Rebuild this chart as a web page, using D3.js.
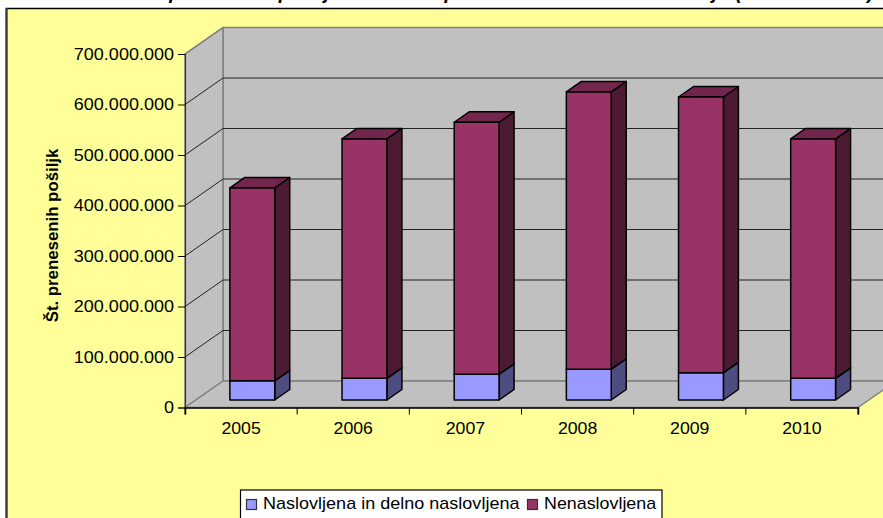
<!DOCTYPE html>
<html><head><meta charset="utf-8">
<script src="https://cdn.jsdelivr.net/npm/d3@7"></script>
<style>html,body{margin:0;padding:0;background:#fff;overflow:hidden}svg{display:block}text{font-family:"Liberation Sans",Arial,sans-serif;fill:#000}</style>
</head><body><svg id="c" width="883" height="518"></svg>
<script>
const categories=["2005","2006","2007","2008","2009","2010"];
const addressed=[38e6,43e6,51e6,61e6,54e6,43e6];
const unaddressed=[382e6,474e6,499e6,549e6,546e6,474e6];
const seriesNames=["Naslovljena in delno naslovljena","Nenaslovljena"];
const yTicks=[0,1e8,2e8,3e8,4e8,5e8,6e8,7e8];
const titleText="Število prenesenih pošiljk iz naslova poštnih storitev v tem obdobju";
const titleYears="(2005 – 2010)";
const yTitle="Št. prenesenih pošiljk";

const svg=d3.select("#c");
const x=d3.scaleBand().domain(categories).range([185,858]);
const y=d3.scaleLinear().domain([0,7e8]).range([407.5,54]);
const depth={x:38,y:-26.5};
const barFrac=0.4, barDepth={x:15,y:-10.5}, barLift=7.5;
const fmt=d3.formatLocale({decimal:",",thousands:".",grouping:[3],currency:["","€"]}).format(",d");
const stretch=(sel,k)=>sel.each(function(){const l=this.getComputedTextLength();d3.select(this).attr("textLength",l*k).attr("lengthAdjust","spacingAndGlyphs");});

// title (clipped by the top of the picture)
const title=svg.append("text").attr("x",100).attr("y",-1).attr("font-size",19.5).attr("font-weight","bold").attr("font-style","italic");
title.append("tspan").text(titleText);
title.append("tspan").attr("dx",6).attr("letter-spacing",1.4).text(titleYears);

// chart area
svg.append("rect").attr("x",6.5).attr("y",8.5).attr("width",900).attr("height",540).attr("fill","#FFFF99").attr("stroke","#000").attr("stroke-width",1.5);
svg.append("line").attr("x1",6.5).attr("x2",6.5).attr("y1",8).attr("y2",518).attr("stroke","#333").attr("stroke-width",2);

const [x0,x1]=x.range(), y0=y(0), yT=y(7e8);
const poly=(pts,fill,stroke,sw)=>svg.append("polygon").attr("points",pts.map(p=>p.join(",")).join(" ")).attr("fill",fill).attr("stroke",stroke||"none").attr("stroke-width",sw||0).attr("stroke-linejoin","round");
// back wall, side wall, floor
poly([[x0+depth.x,yT+depth.y],[x1+depth.x,yT+depth.y],[x1+depth.x,y0+depth.y],[x0+depth.x,y0+depth.y]],"#C0C0C0","#808080",1.5);
poly([[x0,yT],[x0+depth.x,yT+depth.y],[x0+depth.x,y0+depth.y],[x0,y0]],"#C0C0C0","#808080",1.5);
poly([[x0,y0],[x1,y0],[x1+depth.x,y0+depth.y],[x0+depth.x,y0+depth.y]],"#C0C0C0","#808080",1.5);
// gridlines
yTicks.slice(1,-1).forEach(t=>{
  svg.append("polyline").attr("points",[[x0,y(t)],[x0+depth.x,y(t)+depth.y],[x1+depth.x,y(t)+depth.y]].map(p=>p.join(",")).join(" ")).attr("fill","none").attr("stroke","#222").attr("stroke-width",1);
});
svg.append("line").attr("x1",x0).attr("y1",yT).attr("x2",x0+depth.x).attr("y2",yT+depth.y).attr("stroke","#808080").attr("stroke-width",1.5);

// bars
const box=(xa,w,yb,yt,cols)=>{
  poly([[xa+w,yb],[xa+w+barDepth.x,yb+barDepth.y],[xa+w+barDepth.x,yt+barDepth.y],[xa+w,yt]],cols[1],"#000",1.5);
  poly([[xa,yt],[xa+w,yt],[xa+w+barDepth.x,yt+barDepth.y],[xa+barDepth.x,yt+barDepth.y]],cols[2],"#000",1.5);
  poly([[xa,yb],[xa+w,yb],[xa+w,yt],[xa,yt]],cols[0],"#000",1.5);
};
categories.forEach((c,i)=>{
  const xa=x(c)+x.bandwidth()*barFrac, w=x.bandwidth()*barFrac;
  const ya=y(addressed[i])-barLift, yb=y(addressed[i]+unaddressed[i])-barLift;
  box(xa,w,y0-barLift,ya,["#9999FF","#4D4D80","#7373BF"]);
  box(xa,w,ya,yb,["#993366","#4D1A33","#73264D"]);
});

// axes
const ax=svg.append("g").attr("transform",`translate(${x0},0)`).call(d3.axisLeft(y).tickValues(yTicks).tickFormat(fmt).tickSize(7).tickPadding(4));
ax.select(".domain").attr("stroke","#333").attr("stroke-width",1.2);
ax.selectAll("text").attr("font-size",17).call(stretch,1.06);
const bx=svg.append("g").attr("transform",`translate(0,${y0})`).call(d3.axisBottom(x).tickSize(7).tickPadding(7));
bx.select(".domain").attr("stroke","#000").attr("stroke-width",1.5);
bx.selectAll("text").attr("font-size",17).call(stretch,1.04);
[...x.domain().map(d=>x(d)),x1].forEach(p=>bx.append("line").attr("x1",p).attr("x2",p).attr("y1",0).attr("y2",7).attr("stroke","#000"));
bx.selectAll(".tick line").remove();

svg.append("text").attr("transform","translate(57.5,235.5) rotate(-90)").attr("text-anchor","middle").attr("font-size",16).attr("font-weight","bold").text(yTitle).call(stretch,1.05);

// legend
svg.append("rect").attr("x",240.5).attr("y",490).attr("width",421.5).attr("height",40).attr("fill","#fff").attr("stroke","#000").attr("stroke-width",1.2);
const legendX=[246.5,527.5],cols=["#9999FF","#993366"];
seriesNames.forEach((n,i)=>{
  svg.append("rect").attr("x",legendX[i]).attr("y",499.5).attr("width",10).attr("height",10).attr("fill",cols[i]).attr("stroke","#333").attr("stroke-width",1.2);
  svg.append("text").attr("x",legendX[i]+16.5).attr("y",508.5).attr("font-size",17).text(n).call(stretch,1.05+(i?0:0.01));
});
</script></body></html>
